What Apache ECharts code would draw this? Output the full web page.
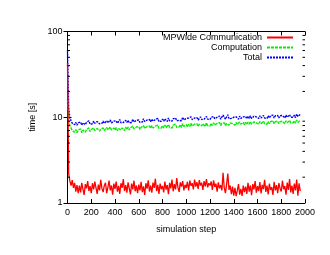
<!DOCTYPE html>
<html><head><meta charset="utf-8">
<script src="https://cdn.jsdelivr.net/npm/echarts@6/dist/echarts.min.js"></script>
<style>html,body{margin:0;padding:0;background:#fff}#c{width:330px;height:255px}</style>
</head><body><div id="c"></div>
<script>
// x positions: simulation steps sampled every 10 steps (0 .. 1960)
const steps = Array.from({length: 197}, (_, i) => i * 10);
const yMinorTicks = [2,3,4,5,6,7,8,9,20,30,40,50,60,70,80,90];
const seriesNames = ['MPWide Communication', 'Computation', 'Total'];

const comm = [
43,2.2,1.8,1.6,1.85,1.5,1.72,1.36,1.62,1.3,
1.6,1.33,1.72,1.45,1.24,1.66,1.48,1.8,1.38,1.57,
1.3,1.7,1.44,1.78,1.5,1.28,1.64,1.4,1.86,1.48,
1.34,1.6,1.72,1.3,1.52,1.82,1.4,1.6,1.25,1.68,
1.46,1.78,1.36,1.58,1.28,1.7,1.5,1.9,1.38,1.62,
1.32,1.74,1.48,1.26,1.68,1.44,1.82,1.37,1.6,1.3,
1.64,1.4,1.76,1.34,1.56,1.24,1.7,1.47,1.84,1.36,
1.6,1.32,1.73,1.5,1.92,1.38,1.63,1.28,1.68,1.45,
1.58,1.33,1.78,1.43,1.62,1.27,1.72,1.48,1.87,1.37,
1.66,1.44,1.95,1.52,1.35,1.74,1.55,1.8,1.4,1.63,
1.5,1.77,1.4,1.83,1.58,1.7,1.44,1.88,1.55,1.75,
1.46,1.85,1.6,1.72,1.42,1.8,1.56,1.9,1.52,1.7,
1.6,1.78,1.42,1.84,1.54,1.68,1.36,1.74,1.48,1.62,
1.4,2.25,1.5,1.3,1.66,2.2,1.42,1.6,1.27,1.55,
1.22,1.5,1.2,1.4,1.66,1.25,1.46,1.21,1.6,1.34,
1.55,1.28,1.72,1.36,1.6,1.23,1.66,1.44,1.8,1.32,
1.57,1.38,1.75,1.29,1.63,1.45,1.86,1.35,1.6,1.26,
1.68,1.42,1.53,1.24,1.77,1.4,1.62,1.3,1.71,1.48,
1.36,1.82,1.45,1.58,1.25,1.73,1.42,1.9,1.33,1.6,
1.28,1.68,1.4,1.88,1.22,1.7,1.38
];
const compute = [
16,10,8.0,7.6,7.0,7.3,6.7,7.2,6.6,7.1,
6.8,7.3,6.6,7.1,7.4,6.7,7.2,6.9,7.5,6.8,
7.2,6.9,7.5,7.0,6.8,7.4,7.6,6.9,7.3,7.0,
7.5,7.0,6.9,7.6,7.1,7.0,7.7,7.1,6.9,7.5,
7.1,7.6,7.0,7.4,7.8,7.1,7.5,7.2,7.0,7.7,
7.2,7.7,7.1,7.5,7.2,7.9,7.3,7.1,7.7,7.3,
7.8,7.2,7.6,7.3,8.0,7.4,7.2,7.8,7.4,7.9,
7.4,8.0,7.5,7.3,7.9,7.5,8.1,7.4,7.8,7.5,
8.0,7.5,8.1,7.6,7.4,8.2,7.6,7.9,7.5,8.1,
7.7,8.3,7.6,8.0,7.7,8.2,7.6,8.4,7.8,7.7,
8.2,7.7,8.3,7.8,8.5,7.9,7.7,8.3,7.9,8.4,
7.8,8.3,8.5,7.9,8.4,8.0,7.8,8.6,8.0,8.4,
7.9,8.5,8.0,8.6,8.1,7.9,8.5,8.1,8.7,8.0,
8.5,8.1,8.6,8.0,8.5,8.8,8.1,8.6,8.2,8.4,
8.6,8.1,8.7,8.2,8.1,8.8,8.3,8.5,8.7,8.2,
8.7,8.2,8.8,8.3,8.9,8.3,8.2,8.8,8.4,8.6,
8.8,8.3,8.9,8.4,8.3,9.0,8.4,8.8,8.3,8.9,
8.4,8.9,8.5,9.1,8.4,8.9,8.5,9.0,8.4,8.9,
8.5,9.0,8.6,8.4,9.1,8.6,8.5,9.2,8.6,9.0,
8.6,9.1,8.5,9.3,8.7,8.6,9.2
];
const total = [
60,13,9.8,9.1,8.5,8.8,8.2,8.7,8.1,8.6,
8.3,8.8,8.1,8.6,9.0,8.2,8.7,8.4,9.1,8.3,
8.7,8.4,9.0,8.5,8.3,8.9,9.2,8.4,8.8,8.5,
9.0,8.5,8.4,9.1,8.6,8.5,9.3,8.6,8.4,9.0,
8.6,9.1,8.5,8.9,9.4,8.6,9.0,8.7,8.5,9.2,
8.7,9.2,8.6,9.0,8.7,9.5,8.8,8.6,9.2,8.8,
9.3,8.7,9.1,8.8,9.6,8.9,8.7,9.3,8.9,9.4,
8.9,9.5,9.0,8.8,9.4,9.0,9.7,8.9,9.3,9.0,
9.5,9.0,9.6,9.1,8.9,9.8,9.1,9.4,9.0,9.6,
9.2,9.8,9.1,9.5,9.2,9.7,9.1,10.0,9.3,9.2,
9.7,9.2,9.8,9.3,10.1,9.4,9.2,9.8,9.4,9.9,
9.3,9.8,10.1,9.4,9.9,9.5,9.3,10.2,9.5,9.9,
9.4,10.0,9.5,10.2,9.6,9.4,10.0,9.6,10.3,9.5,
10.0,10.6,10.1,9.5,10.0,10.7,9.6,10.1,9.7,9.9,
10.0,9.5,10.1,9.6,9.5,10.3,9.7,9.9,10.1,9.6,
10.2,9.6,10.3,9.7,10.4,9.7,9.6,10.3,9.8,10.1,
10.3,9.7,10.4,9.8,9.7,10.5,9.8,10.3,9.7,10.4,
9.8,10.4,9.9,10.6,9.8,10.4,9.9,10.5,9.8,10.4,
9.9,10.5,10.0,9.8,10.6,10.0,9.9,10.7,10.0,10.5,
10.0,10.6,9.9,10.9,10.2,10.0,10.8
];

const FONT = 'Liberation Sans, Arial, Helvetica, sans-serif';
const FS = 9;
const pair = arr => steps.map((s, i) => [s, arr[i]]);
const chart = echarts.init(document.getElementById('c'), null, {renderer: 'canvas'});
const axLine = {show: true, lineStyle: {color: '#000', width: 1}};
const baseX = {type: 'value', min: 0, max: 2000, interval: 200, splitLine: {show: false}, axisLine: axLine,
  axisTick: {inside: true, length: 4, lineStyle: {color: '#000'}}};
const baseY = {type: 'log', logBase: 10, min: 1, max: 100, splitLine: {show: false}, axisLine: axLine,
  axisTick: {inside: true, length: 4, lineStyle: {color: '#000'}}};
chart.setOption({
  animation: false,
  backgroundColor: '#fff',
  textStyle: {fontFamily: FONT},
  grid: {left: 67.5, right: 25, top: 31.5, bottom: 52, containLabel: false},
  legend: {
    data: seriesNames, orient: 'vertical', right: 36, top: 33, padding: 0, align: 'right',
    itemWidth: 26, itemHeight: 8, itemGap: 1, selectedMode: false,
    itemStyle: {opacity: 0},
    textStyle: {fontSize: FS, color: '#000', fontFamily: FONT}
  },
  xAxis: [
    Object.assign({}, baseX, {position: 'bottom',
      axisLabel: {fontSize: FS, color: '#000', margin: 5, fontFamily: FONT, interval: 0,
        formatter: v => String(v)},
      name: 'simulation step', nameLocation: 'middle', nameGap: 22,
      nameTextStyle: {fontSize: FS, color: '#000', fontFamily: FONT}}),
    Object.assign({}, baseX, {position: 'top', axisLabel: {show: false}})
  ],
  yAxis: [
    Object.assign({}, baseY, {position: 'left',
      axisLabel: {fontSize: FS, color: '#000', margin: 5, fontFamily: FONT,
        formatter: v => String(v)},
      name: 'time [s]', nameLocation: 'middle', nameGap: 30,
      nameTextStyle: {fontSize: FS, color: '#000', fontFamily: FONT}}),
    Object.assign({}, baseY, {position: 'right', axisLabel: {show: false}})
  ],
  series: [
    {name: seriesNames[0], type: 'line', data: pair(comm), showSymbol: false, symbol: 'none',
      color: '#ff0000', lineStyle: {color: '#ff0000', width: 1.3, type: 'solid'}, z: 3},
    {name: seriesNames[1], type: 'line', data: pair(compute), showSymbol: false, symbol: 'none',
      color: '#00ff00', lineStyle: {color: '#00f000', width: 1.4, type: [3, 1]}, z: 2},
    {name: seriesNames[2], type: 'line', data: pair(total), showSymbol: false, symbol: 'none',
      color: '#0000ff', lineStyle: {color: '#0000ff', width: 1.4, type: [2, 1]}, z: 2},
    {type: 'custom', coordinateSystem: 'cartesian2d', silent: true, z: 5,
      data: yMinorTicks.map(v => [0, v]),
      renderItem: function (params, api) {
        const y = api.coord([0, api.value(1)])[1];
        const cs = params.coordSys;
        return {type: 'group', children: [
          {type: 'line', shape: {x1: cs.x, y1: y, x2: cs.x + 2.5, y2: y}, style: {stroke: '#000', lineWidth: 1}},
          {type: 'line', shape: {x1: cs.x + cs.width, y1: y, x2: cs.x + cs.width - 2.5, y2: y}, style: {stroke: '#000', lineWidth: 1}}
        ]};
      }}
  ]
});
</script></body></html>
